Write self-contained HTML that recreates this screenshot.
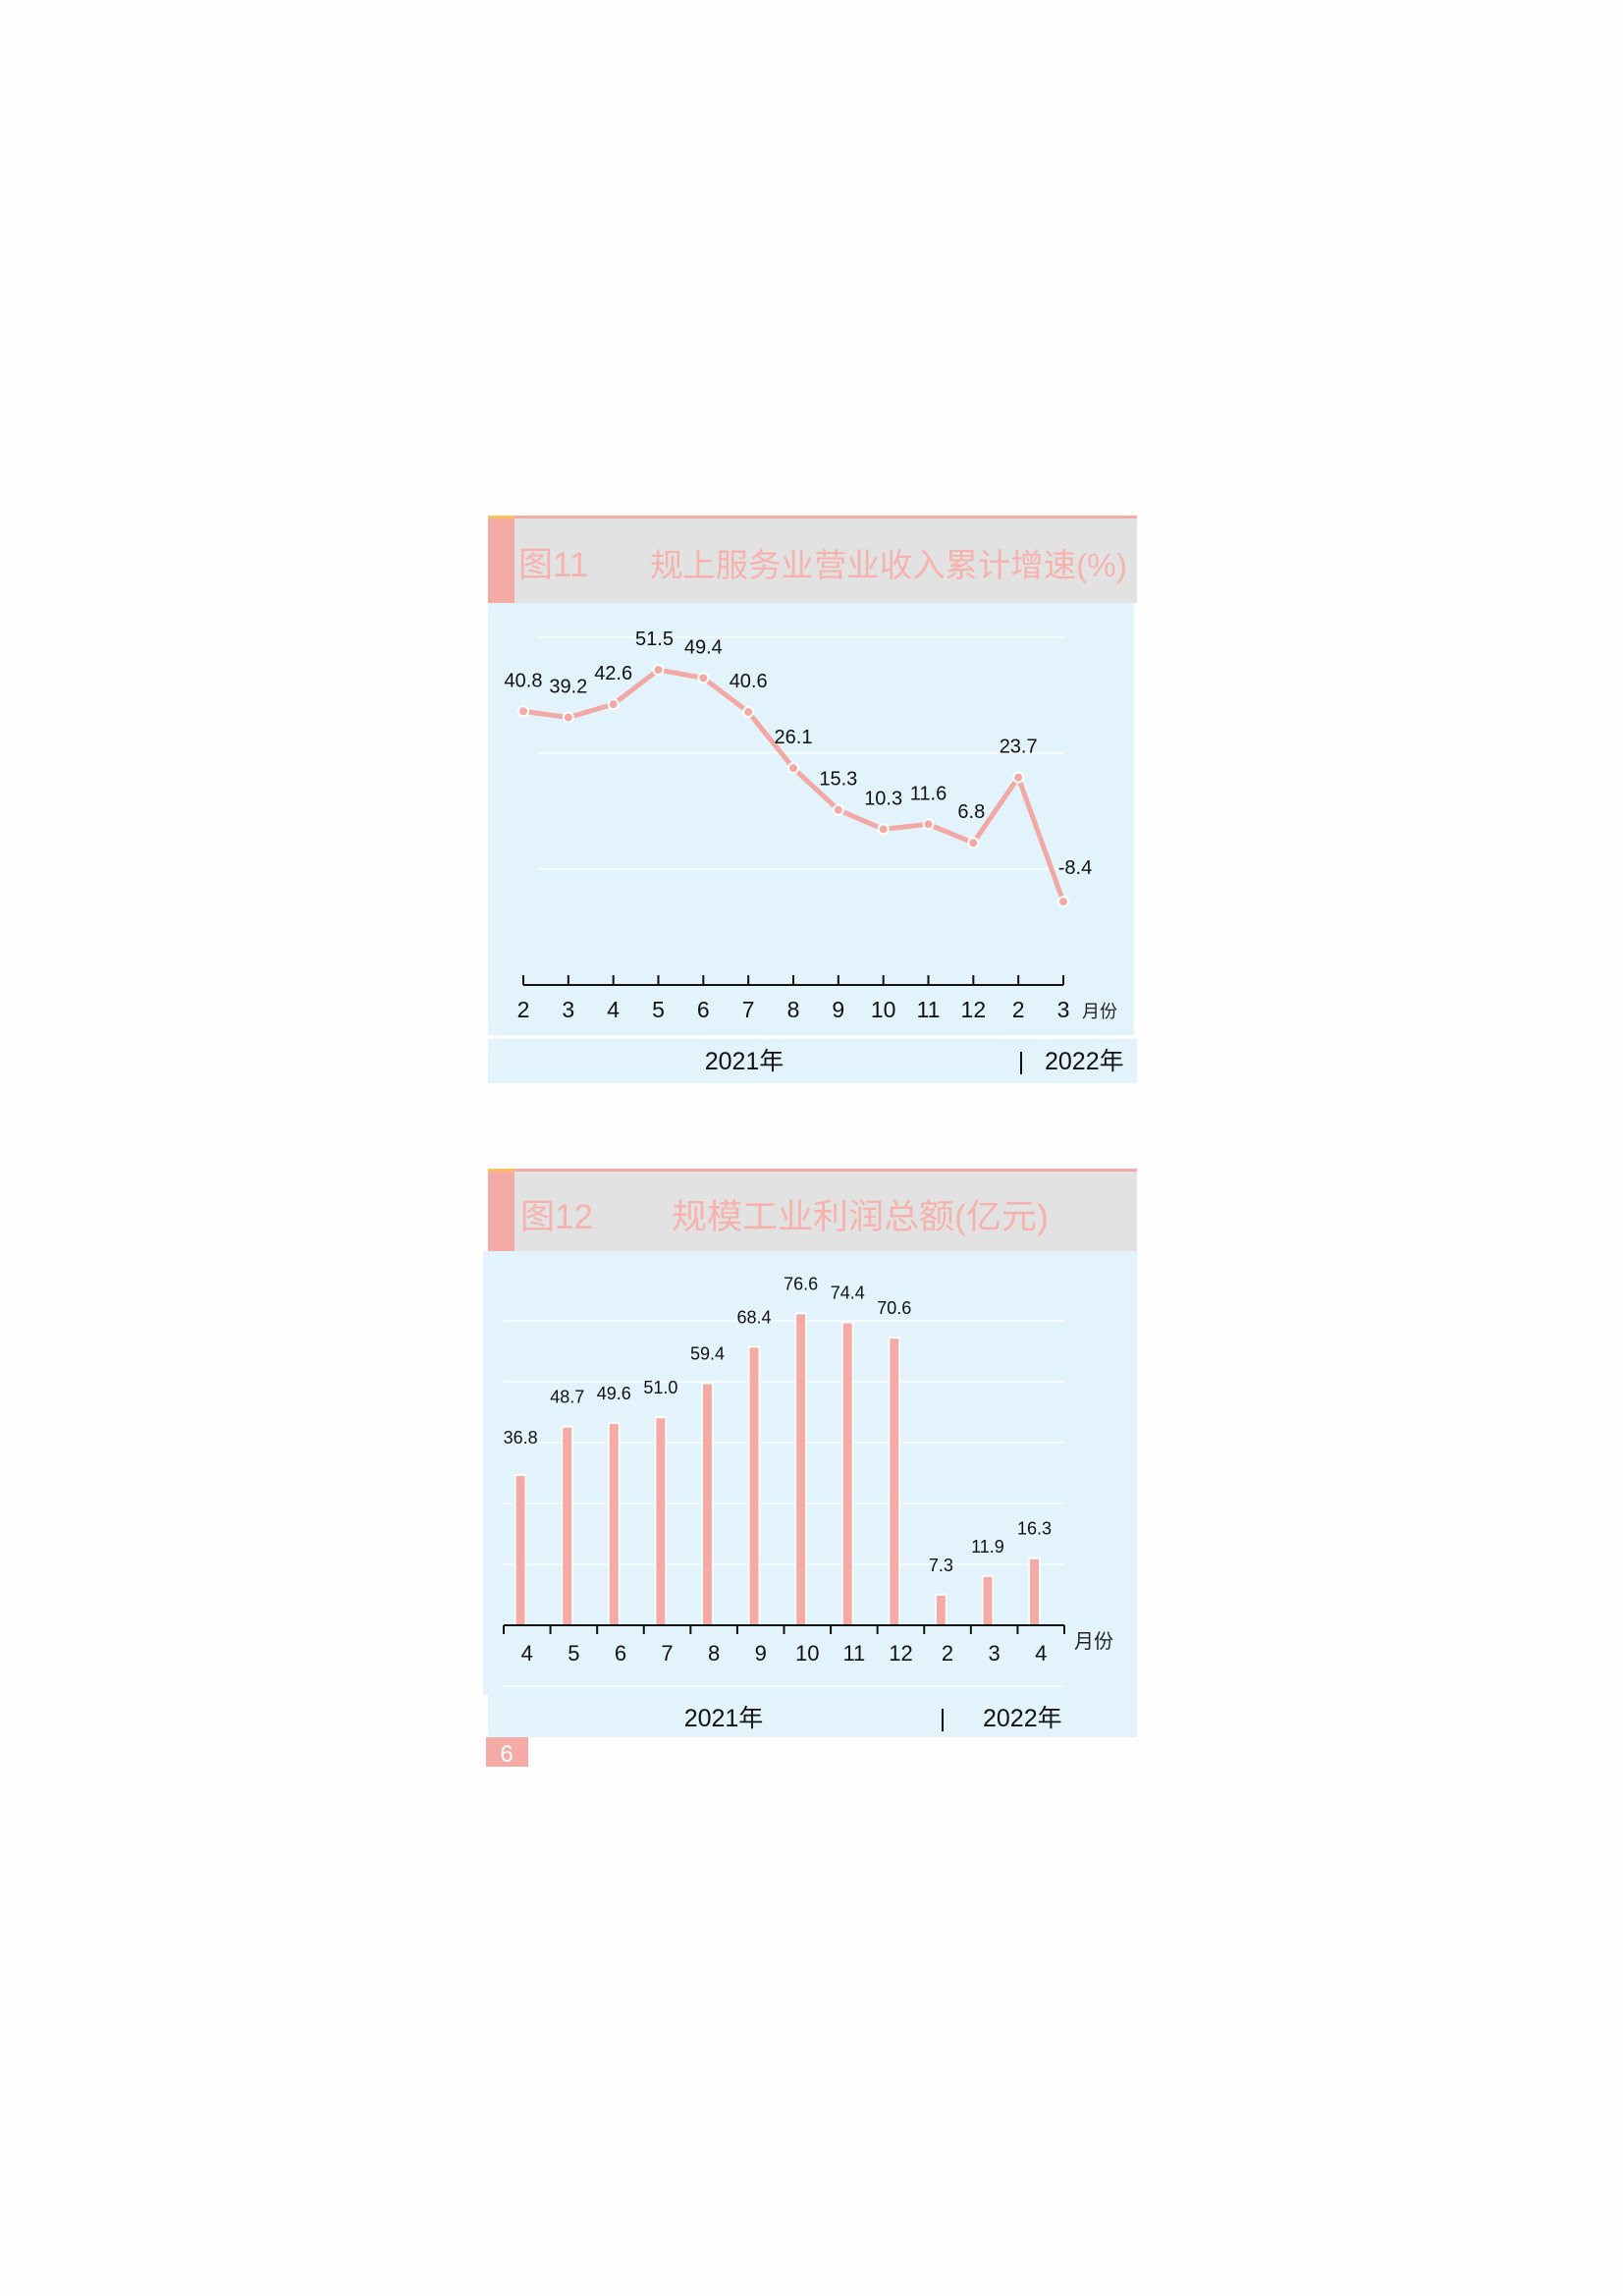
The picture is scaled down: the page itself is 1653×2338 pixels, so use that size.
<!DOCTYPE html>
<html><head><meta charset="utf-8"><style>
html,body{margin:0;padding:0;background:#fff;}
svg{display:block;}
text{font-family:"Liberation Sans","Noto Sans CJK SC",sans-serif;}
</style></head><body>
<svg id="page" width="1653" height="2338" viewBox="0 0 1653 2338" xmlns="http://www.w3.org/2000/svg">
<rect width="1653" height="2338" fill="#fefefe"/>
<!-- Chart 11 -->
<g id="chart1">
  <rect x="497" y="525" width="661" height="3" fill="#f4aaa5"/>
  <rect x="497" y="525" width="27" height="3" fill="#f7c05a"/>
  <rect x="497" y="528" width="661" height="86" fill="#e2e2e2"/>
  <rect x="497" y="528" width="27" height="86" fill="#f4aaa5"/>
  <text x="528" y="587" font-size="35" fill="#f6b3ae">图11</text>
  <text x="662" y="587" font-size="33" fill="#f6b3ae" textLength="486" lengthAdjust="spacingAndGlyphs">规上服务业营业收入累计增速(%)</text>
  <rect x="497" y="614" width="658" height="440" fill="#e3f3fb"/>
  <rect x="497" y="1058" width="661" height="45" fill="#e3f3fb"/>
  <g id="c1grid"></g>
  <g id="c1axis"></g>
  <g id="c1line"></g>
  <text x="1102" y="1036" font-size="18" fill="#222">月份</text>
  <text x="758" y="1089" font-size="25" fill="#111" text-anchor="middle">2021年</text>
  <text x="1040" y="1089" font-size="25" fill="#111" text-anchor="middle">|</text>
  <text x="1064" y="1089" font-size="25" fill="#111">2022年</text>
</g>
<!-- Chart 12 -->
<g id="chart2">
  <rect x="497" y="1190" width="661" height="3" fill="#f4aaa5"/>
  <rect x="497" y="1190" width="27" height="3" fill="#f7c05a"/>
  <rect x="497" y="1193" width="661" height="81" fill="#e2e2e2"/>
  <rect x="497" y="1193" width="27" height="81" fill="#f4aaa5"/>
  <text x="530" y="1251" font-size="35" fill="#f6b3ae">图12</text>
  <text x="684" y="1251" font-size="35" fill="#f6b3ae" textLength="384" lengthAdjust="spacingAndGlyphs">规模工业利润总额(亿元)</text>
  <rect x="492" y="1274" width="666" height="452" fill="#e3f3fb"/>
  <rect x="497" y="1720" width="661" height="49" fill="#e3f3fb"/>
  <line x1="513" y1="1717" x2="1084" y2="1717" stroke="#f4fafd" stroke-width="2"/>
  <g id="c2grid"></g>
  <g id="c2bars"></g>
  <g id="c2axis"></g>
  <text x="1094" y="1678" font-size="20" fill="#222">月份</text>
  <text x="737" y="1758" font-size="25" fill="#111" text-anchor="middle">2021年</text>
  <text x="960" y="1758" font-size="25" fill="#111" text-anchor="middle">|</text>
  <text x="1001" y="1758" font-size="25" fill="#111">2022年</text>
  <rect x="495" y="1769" width="43" height="30" fill="#f4aaa5"/>
  <text x="516" y="1794" font-size="24" fill="#fff" text-anchor="middle">6</text>
</g>
</svg>
<script>
const NS="http://www.w3.org/2000/svg";
// Chart 11 data
const c1Months=["2","3","4","5","6","7","8","9","10","11","12","2","3"];
const c1Values=[40.8,39.2,42.6,51.5,49.4,40.6,26.1,15.3,10.3,11.6,6.8,23.7,-8.4];
const c1Labels=["40.8","39.2","42.6","51.5","49.4","40.6","26.1","15.3","10.3","11.6","6.8","23.7","-8.4"];
const c1Grid=[60,30,0];
// Chart 12 data
const c2Months=["4","5","6","7","8","9","10","11","12","2","3","4"];
const c2Values=[36.8,48.7,49.6,51.0,59.4,68.4,76.6,74.4,70.6,7.3,11.9,16.3];
const c2Labels=["36.8","48.7","49.6","51.0","59.4","68.4","76.6","74.4","70.6","7.3","11.9","16.3"];
const c2Grid=[15,30,45,60,75];

function mk(tag,attrs,parent,txt){const e=document.createElementNS(NS,tag);for(const k in attrs)e.setAttribute(k,attrs[k]);if(txt!==undefined)e.textContent=txt;parent.appendChild(e);return e;}

// chart 1 scales
const y1=v=>885-v*(236/59.9);
const x1=i=>533+i*(550/12);
const g1=document.getElementById('c1grid');
c1Grid.forEach(v=>{const l=mk('line',{x1:548,x2:1083,y1:y1(v),y2:y1(v),stroke:'#f6fbfe','stroke-width':2},g1);

});
const a1=document.getElementById('c1axis');
const ax1=mk('line',{x1:x1(0),x2:x1(12),y1:1003,y2:1003,stroke:'#111','stroke-width':2},a1);


c1Months.forEach((m,i)=>{
 const t=mk('line',{x1:x1(i),x2:x1(i),y1:1003,y2:993,stroke:'#111','stroke-width':2},a1);
 
 
 const tl=mk('text',{x:x1(i),y:1036,'font-size':23,fill:'#111','text-anchor':'middle'},a1,m);
 
 
});
const gl=document.getElementById('c1line');
const pl=mk('polyline',{points:c1Values.map((v,i)=>x1(i)+','+y1(v)).join(' '),fill:'none',stroke:'#f2a9a6','stroke-width':5,'stroke-linejoin':'round'},gl);


const lblDx=[0,0,0,-4,0,0,0,0,0,0,-2,0,12];
c1Values.forEach((v,i)=>{
 const c=mk('circle',{cx:x1(i),cy:y1(v),r:5,fill:'#f2a9a6',stroke:'#fff','stroke-width':2},gl);
 
 
 const t=mk('text',{x:x1(i)+lblDx[i]+(i<2?0:0),y:y1(v)-(i===12?28:25),'font-size':20,fill:'#111','text-anchor':'middle'},gl,c1Labels[i]);
 
 
});

// chart 2 scales
const step2=571/12;
const y2=v=>1655-v*(62/15);
const xb=i=>513+(i+0.36)*step2;
const g2=document.getElementById('c2grid');
c2Grid.forEach(v=>{const l=mk('line',{x1:513,x2:1084,y1:y2(v),y2:y2(v),stroke:'#f4fafd','stroke-width':2},g2);

});
const b2=document.getElementById('c2bars');
c2Values.forEach((v,i)=>{
 const r=mk('rect',{x:xb(i)-6,y:y2(v)-2,width:12,height:1655-y2(v)+2,fill:'#fff'},b2);
 
 
 const b=mk('rect',{x:xb(i)-4.5,y:y2(v),width:9,height:1655-y2(v),fill:'#f4aaa5'},b2);
 
 
 const t=mk('text',{x:xb(i),y:y2(v)-(i<1?33:i<9?25:25),'font-size':18,fill:'#111','text-anchor':'middle'},b2,c2Labels[i]);
 
 
});
const a2=document.getElementById('c2axis');
const ax2=mk('line',{x1:513,x2:1084,y1:1655,y2:1655,stroke:'#111','stroke-width':2},a2);


for(let i=0;i<=12;i++){
 const t=mk('line',{x1:513+i*step2,x2:513+i*step2,y1:1655,y2:1664,stroke:'#111','stroke-width':2},a2);
 
 
}
c2Months.forEach((m,i)=>{
 const tl=mk('text',{x:513+(i+0.5)*step2,y:1691,'font-size':22,fill:'#111','text-anchor':'middle'},a2,m);
 
 
});
</script>
</body></html>
